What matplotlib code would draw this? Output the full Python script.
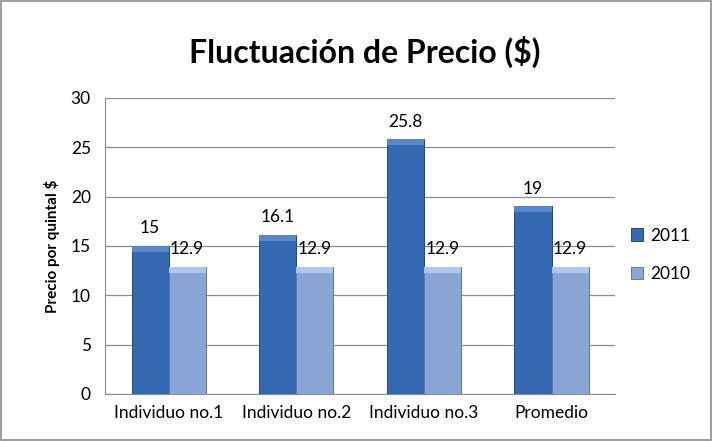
import numpy as np
import matplotlib.pyplot as plt
from matplotlib.patches import Rectangle

categories = ['Individuo no.1', 'Individuo no.2', 'Individuo no.3', 'Promedio']
precio_2011 = [15, 16.1, 25.8, 19]
precio_2010 = [12.9, 12.9, 12.9, 12.9]
series_names = ['2011', '2010']

plt.rcParams['font.family'] = ['Lato', 'DejaVu Sans']

fig = plt.figure(figsize=(7.13, 4.41), dpi=100)
ax = fig.add_axes([0.147, 0.1066, 0.716, 0.6714])

x = np.arange(len(categories))
w = 0.29
b1 = ax.bar(x - w/2, precio_2011, w, color='#3468b0', edgecolor='#23487e', linewidth=0.7,
            label=series_names[0], zorder=3)
b2 = ax.bar(x + w/2, precio_2010, w, color='#88a5d6', edgecolor='#5a7ab0', linewidth=0.7,
            label=series_names[1], zorder=3)

# bevel highlight on top of bars
for bars, col in [(b1, '#5588cc'), (b2, '#b0c6ec')]:
    for r in bars:
        h = r.get_height()
        ax.add_patch(Rectangle((r.get_x(), h - 0.6), r.get_width(), 0.6,
                               color=col, zorder=4, lw=0))

for bars, vals in [(b1, precio_2011), (b2, precio_2010)]:
    for r, v in zip(bars, vals):
        ax.annotate(f'{v:g}', (r.get_x() + r.get_width()/2, v), xytext=(0, 7),
                    textcoords='offset points', ha='center', va='bottom',
                    fontsize=12.5, zorder=5)

ax.set_ylim(0, 30)
ax.set_xlim(-0.5, len(categories) - 0.5)
ax.set_yticks(range(0, 31, 5))
ax.set_xticks(x)
ax.set_xticklabels(categories, fontsize=12.5)
ax.tick_params(axis='y', labelsize=12.5, length=0, pad=10)
ax.tick_params(axis='x', length=0, pad=8)
ax.grid(axis='y', color='#8c8c8c', linewidth=0.9, zorder=0)
for s in ['top', 'right']:
    ax.spines[s].set_visible(False)
ax.spines['left'].set_color('#8c8c8c')
ax.spines['bottom'].set_color('#8c8c8c')
ax.set_ylabel('Precio por quintal $', fontsize=11, fontweight='bold', labelpad=8)

fig.text(0.512, 0.882, 'Fluctuación de Precio ($)', ha='center', va='center',
         fontsize=23, fontweight='bold')

ax.legend(loc='center left', bbox_to_anchor=(1.0, 0.47), frameon=False, fontsize=12.5,
          handlelength=0.7, handleheight=0.7, handletextpad=0.4, labelspacing=1.3)

fig.patches.append(Rectangle((0.002, 0.003), 0.995, 0.994, transform=fig.transFigure,
                             fill=False, edgecolor='#8c8c8c', linewidth=1.2))

fig.savefig('out.png', dpi=100)
